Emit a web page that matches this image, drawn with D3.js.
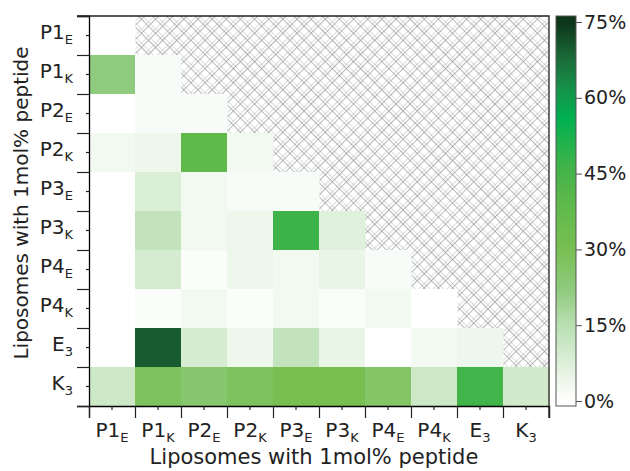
<!DOCTYPE html>
<html>
<head>
<meta charset="utf-8">
<script src="https://cdn.jsdelivr.net/npm/d3@7"></script>
<style>
  body { margin: 0; background: #fff; }
  text { font-family: "DejaVu Sans", Verdana, sans-serif; fill: #222; }
</style>
</head>
<body>
<div id="chart"></div>
<script>
// peptide labels (last char is the subscript)
const peptides = ["P1E", "P1K", "P2E", "P2K", "P3E", "P3K", "P4E", "P4K", "E3", "K3"];

// fusion values (%) per row, lower triangle incl. diagonal
const rowP1E = [0];
const rowP1K = [22, 1.5];
const rowP2E = [0, 1.5, 1.5];
const rowP2K = [3, 4, 39, 3];
const rowP3E = [0, 8, 3, 1.5, 1.5];
const rowP3K = [0, 13, 3, 4, 47, 7];
const rowP4E = [0, 9, 1, 4, 3, 5, 1.5];
const rowP4K = [0, 1, 3, 1, 3, 1, 3, 0];
const rowE3 = [0, 70, 9, 4, 13, 5, 0, 3, 4];
const rowK3 = [11, 28, 25, 28, 30, 30, 26, 11, 46, 10];

const colorTicks = [0, 15, 30, 45, 60, 75];

const matrix = [rowP1E, rowP1K, rowP2E, rowP2K, rowP3E, rowP3K, rowP4E, rowP4K, rowE3, rowK3];

const width = 630, height = 471;
const plot = { left: 89, right: 549, top: 16, bottom: 406 };

const svg = d3.select("#chart").append("svg")
    .attr("width", width)
    .attr("height", height);

// hatch pattern for the empty upper triangle
const defs = svg.append("defs");
const pat = defs.append("pattern")
    .attr("id", "hatch")
    .attr("patternUnits", "userSpaceOnUse")
    .attr("width", 10).attr("height", 10)
    .attr("patternTransform", "rotate(45)");
[0, 3.5].forEach(p => {
    pat.append("line").attr("x1", p).attr("x2", p).attr("y1", 0).attr("y2", 10)
        .attr("stroke", "#999").attr("stroke-width", 0.7);
    pat.append("line").attr("y1", p).attr("y2", p).attr("x1", 0).attr("x2", 10)
        .attr("stroke", "#999").attr("stroke-width", 0.7);
});

// colour scale: white -> yellowish green -> green -> dark green
const stops = [
    [0, "#ffffff"], [5, "#e9f5e6"], [15, "#b9dfb2"], [22, "#8fcb7e"],
    [30, "#78bf52"], [40, "#5cb84a"], [47, "#3db34a"], [56, "#00b050"],
    [62, "#16914a"], [68, "#1b6a38"], [75, "#0c3419"]
];
const color = d3.scaleLinear()
    .domain(stops.map(d => d[0]))
    .range(stops.map(d => d[1]))
    .clamp(true);

const x = d3.scaleBand().domain(peptides).range([plot.left, plot.right]);
const y = d3.scaleBand().domain(peptides).range([plot.top, plot.bottom]);

svg.append("rect")
    .attr("x", plot.left).attr("y", plot.top)
    .attr("width", plot.right - plot.left).attr("height", plot.bottom - plot.top)
    .attr("fill", "url(#hatch)");

// cells
const cells = [];
matrix.forEach((row, i) => {
    row.forEach((v, j) => cells.push({ r: peptides[i], c: peptides[j], v: v }));
});
svg.append("g")
    .selectAll("rect")
    .data(cells)
    .join("rect")
    .attr("x", d => x(d.c))
    .attr("y", d => y(d.r))
    .attr("width", x.bandwidth() + 0.5)
    .attr("height", y.bandwidth() + 0.5)
    .attr("fill", d => color(d.v));

// frame: top and right border
svg.append("path")
    .attr("d", `M${plot.left - 12},${plot.top}H${plot.right}V${plot.bottom + 12}`)
    .attr("fill", "none").attr("stroke", "#222").attr("stroke-width", 1.3);

// subscripted labels
function subLabel(sel) {
    sel.each(function (d) {
        const t = d3.select(this).text("");
        t.append("tspan").text(d.slice(0, -1));
        t.append("tspan").text(d.slice(-1))
            .attr("font-size", "13px").attr("dy", "0.4em");
    });
}

// x axis: major ticks at boundaries, minor at centres
const idx = d3.scaleLinear().domain([0, peptides.length]).range([plot.left, plot.right]);
svg.append("g")
    .attr("transform", `translate(0,${plot.bottom})`)
    .call(d3.axisBottom(idx).ticks(10).tickSize(12).tickFormat(""))
    .call(g => g.select(".domain").attr("stroke-width", 1.3));
const xAxis = svg.append("g")
    .attr("transform", `translate(0,${plot.bottom})`)
    .call(d3.axisBottom(x).tickSize(4).tickPadding(13))
    .call(g => g.select(".domain").remove());
xAxis.selectAll("text").attr("font-size", "20px").call(subLabel);

// y axis
const idy = d3.scaleLinear().domain([0, peptides.length]).range([plot.top, plot.bottom]);
svg.append("g")
    .attr("transform", `translate(${plot.left},0)`)
    .call(d3.axisLeft(idy).ticks(10).tickSize(12).tickFormat(""))
    .call(g => g.select(".domain").attr("stroke-width", 1.3));
const yAxis = svg.append("g")
    .attr("transform", `translate(${plot.left},0)`)
    .call(d3.axisLeft(y).tickSize(3).tickPadding(13))
    .call(g => g.select(".domain").remove());
yAxis.selectAll("text").attr("font-size", "20px").attr("dy", "0.15em").call(subLabel);

svg.selectAll(".tick line").attr("stroke", "#222").attr("stroke-width", 1.2);

// axis titles
svg.append("text")
    .attr("x", (plot.left + plot.right) / 2 - 5).attr("y", 464)
    .attr("text-anchor", "middle").attr("font-size", "21px")
    .text("Liposomes with 1mol% peptide");
svg.append("text")
    .attr("transform", `translate(28,${(plot.top + plot.bottom) / 2 - 8}) rotate(-90)`)
    .attr("text-anchor", "middle").attr("font-size", "20px")
    .text("Liposomes with 1mol% peptide");

// colour bar
const cb = { x: 556, w: 20, top: 16, bottom: 406 };
const cy = d3.scaleLinear().domain([0, 75]).range([401, 22]);
const grad = defs.append("linearGradient")
    .attr("id", "cbar").attr("x1", 0).attr("x2", 0).attr("y1", 1).attr("y2", 0);
const gLo = cy.invert(cb.bottom), gHi = cy.invert(cb.top);
d3.range(0, 1.0001, 0.02).forEach(t => {
    grad.append("stop").attr("offset", t).attr("stop-color", color(gLo + t * (gHi - gLo)));
});
svg.append("rect")
    .attr("x", cb.x).attr("y", cb.top)
    .attr("width", cb.w).attr("height", cb.bottom - cb.top)
    .attr("fill", "url(#cbar)")
    .attr("stroke", "#555").attr("stroke-width", 1);
svg.append("g")
    .attr("transform", `translate(${cb.x + cb.w},0)`)
    .call(d3.axisRight(cy).tickValues(colorTicks).tickSize(6).tickPadding(2).tickFormat(d => d + "%"))
    .call(g => g.select(".domain").remove())
    .call(g => g.selectAll("text").attr("font-size", "19px"))
    .call(g => g.selectAll("line").attr("stroke", "#555"));
</script>
</body>
</html>
